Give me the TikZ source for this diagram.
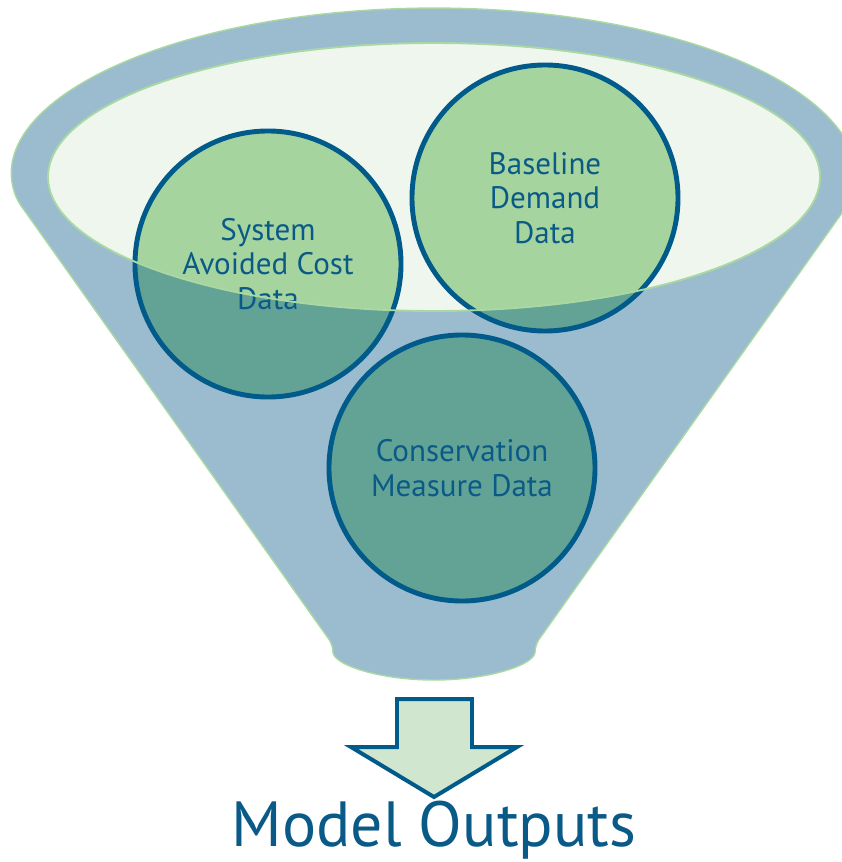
\documentclass[tikz,border=0pt]{standalone}
\usepackage{fontspec}
\usepackage{xcolor}
\usepackage{tikz}
\usetikzlibrary{positioning}
\newfontfamily\labelfont{PT Sans}
\definecolor{funnelblue}{HTML}{9BBCCF}
\definecolor{rimgreen}{HTML}{A9D8A2}
\definecolor{mouthwhite}{HTML}{EEF6EE}
\definecolor{bubblegreen}{HTML}{A6D49E}
\definecolor{bubbleteal}{HTML}{63A396}
\definecolor{bubbleblue}{HTML}{005A8A}
\definecolor{textblue}{HTML}{0A5A88}
\definecolor{arrowgreen}{HTML}{D1E6CF}
\pgfdeclarelayer{filllayer}
\pgfdeclarelayer{nodelayer}
\pgfsetlayers{filllayer,main,nodelayer}
\tikzset{
    rim/.style = {draw=rimgreen, line width=1.2pt},
    bubble/.style = {circle, draw=bubbleblue, line width=4.2pt, minimum size=7.98cm, inner sep=0pt,
                     text=textblue, align=center, font=\labelfont\fontsize{26.5}{29.3}\selectfont}
}

\begin{document}
\begin{tikzpicture}[x=0.03cm, y=-0.03cm]
  \useasboundingbox (0,0) rectangle (842,862);
  \coordinate (mouth) at (434,177);
  \coordinate (c1) at (268,264);
  \coordinate (c2) at (545,198);
  \coordinate (c3) at (462,468);
  \begin{pgfonlayer}{filllayer}
    % funnel body
    \path [fill=funnelblue, rim, rounded corners=6pt] (17,200) arc [start angle=172.2, end angle=367.8, x radius=421, y radius=169]
      -- (535,645) arc [start angle=0, end angle=180, x radius=101, y radius=35] -- cycle;
    \fill [mouthwhite] (mouth) ellipse [x radius=386, y radius=134];
  \end{pgfonlayer}
  % bubbles, darker below the rim
  \foreach \c in {c1,c2,c3}
    \fill [bubbleteal] (\c) circle [radius=133];
  \begin{scope}
    \clip (mouth) ellipse [x radius=386, y radius=134];
    \foreach \c in {c1,c2,c3}
      \fill [bubblegreen] (\c) circle [radius=133];
  \end{scope}
  \begin{pgfonlayer}{nodelayer}
    \node [bubble] (avoided) at (c1) {System\\Avoided Cost\\Data};
    \node [bubble] (baseline) at (c2) {Baseline\\Demand\\Data};
    \node [bubble] (measure) at (c3) {Conservation\\Measure Data};
    \draw [rim, line width=1.6pt] (mouth) ellipse [x radius=386, y radius=134];
    % output arrow
    \draw [fill=arrowgreen, draw=bubbleblue, line width=3.4pt]
      (397,699) -- (472,699) -- (472,747) -- (517,747) -- (434,797) -- (351,747) -- (397,747) -- cycle;
    \node [anchor=base, text=textblue, font=\labelfont\fontsize{54.5}{60}\selectfont] (outputs) at (434,846) {Model Outputs};
  \end{pgfonlayer}
\end{tikzpicture}
\end{document}
